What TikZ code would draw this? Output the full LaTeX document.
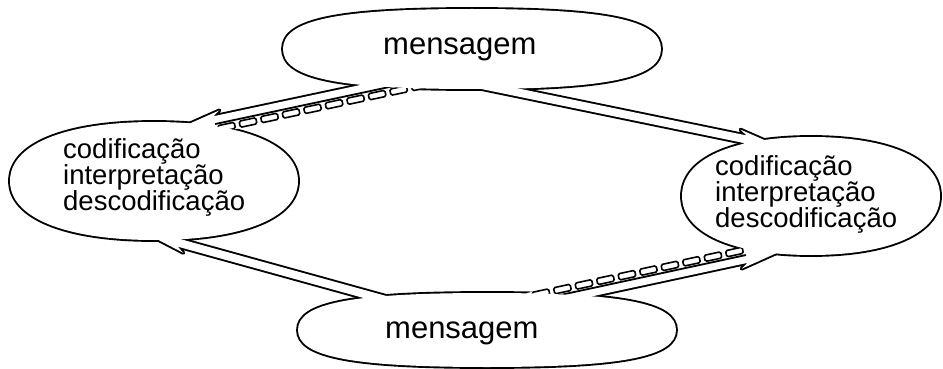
\documentclass[tikz,border=0pt]{standalone}
\usepackage{fontspec}
\setmainfont{Liberation Sans}
\usetikzlibrary{calc}
\pgfdeclarelayer{L1}\pgfdeclarelayer{L2}\pgfdeclarelayer{L3}\pgfdeclarelayer{L4}
\pgfsetlayers{L1,L2,L3,L4,main}
\newcommand\codfont{\fontsize{27.5}{26}\selectfont\lineskiplimit=-50pt\relax}
\tikzset{
  outl/.style={draw=black,line width=3.8pt,line join=round},
  inl/.style={draw=black,line width=1.8pt,line join=round},
  chainbox/.style={draw=black,line width=1.6pt,rounded corners=1.5pt},
  msg/.style={inner sep=0pt,font=\fontsize{31}{31}\selectfont},
  cod/.style={inner sep=0pt,font=\codfont,align=left}
}
% superellipse path: rx, ry, k
\newcommand\blobpath[3]{(#1,0) .. controls (#1,#3*#2) and (#3*#1,#2) .. (0,#2)
  .. controls (-#3*#1,#2) and (-#1,#3*#2) .. (-#1,0)
  .. controls (-#1,-#3*#2) and (-#3*#1,-#2) .. (0,-#2)
  .. controls (#3*#1,-#2) and (#1,-#3*#2) .. (#1,0) -- cycle}
\newcommand\blob[4]{% centre, rx, ry, roundness
  \begin{pgfonlayer}{L1}\draw[outl,shift={(#1)}] \blobpath{#2}{#3}{#4};\end{pgfonlayer}
  \begin{pgfonlayer}{L4}\fill[white,shift={(#1)}] \blobpath{#2}{#3}{#4};\end{pgfonlayer}}
\def\aW{4pt}\def\aH{8.5pt}\def\aL{33pt}\def\aB{7pt}\def\aC{13pt}\def\aHH{18pt}
\newcommand\measure[2]{\path let \p1=(#1), \p2=(#2) in \pgfextra{%
  \pgfmathsetmacro\tmpang{atan2(\y2-\y1,\x2-\x1)}%
  \pgfmathsetmacro\tmplen{veclen(\x2-\x1,\y2-\y1)}%
  \xdef\Aang{\tmpang}\xdef\Alen{\tmplen}};}
\def\hollowpoly{(0pt,-\aW) -- ({\Alen pt-\aL},-\aW) -- ({\Alen pt-\aL-\aB},-\aH) -- (\Alen pt,0pt)
  -- ({\Alen pt-\aL-\aB},\aH) -- ({\Alen pt-\aL},\aW) -- (0pt,\aW) -- cycle}
\def\chainopen{(0pt,-\aW) -- ({\Alen pt-\aL},-\aW) -- ({\Alen pt-\aL-\aB},-\aH) -- (\Alen pt,0pt)
  -- ({\Alen pt-\aL-\aB},\aHH) -- ({\Alen pt-\aL},\aC)}
\def\chainpoly{\chainopen -- (0pt,\aC) -- cycle}
\newcommand\plainarrow[2]{\measure{#1}{#2}%
  \begin{pgfonlayer}{L1}\draw[outl,shift={(#1)},rotate=\Aang] \hollowpoly;\end{pgfonlayer}
  \begin{pgfonlayer}{L2}\fill[white,shift={(#1)},rotate=\Aang] \hollowpoly;\end{pgfonlayer}}
\newcommand\chainarrow[2]{\measure{#1}{#2}%
  \pgfmathtruncatemacro\nrect{(\Alen-40)/22}%
  \begin{pgfonlayer}{L1}\draw[outl,shift={(#1)},rotate=\Aang] \chainopen;\end{pgfonlayer}
  \begin{pgfonlayer}{L2}\fill[white,shift={(#1)},rotate=\Aang] \chainpoly;\end{pgfonlayer}
  \begin{pgfonlayer}{L3}
    \draw[inl,shift={(#1)},rotate=\Aang] (0pt,\aW) -- ({\Alen pt-\aL},\aW);
    \foreach \i in {0,...,\nrect}{
      \draw[chainbox,shift={(#1)},rotate=\Aang]
        ({\Alen pt-\aL-19pt-\i*22pt},6.2pt) -- ++(17pt,0pt) -- ++(0pt,6.3pt) -- ++(-17pt,0pt) -- cycle;}
  \end{pgfonlayer}}
\begin{document}
\begin{tikzpicture}[x=1pt,y=-1pt]
\useasboundingbox (0,0) rectangle (943,369);
% centres of the four shapes
\coordinate (ctop) at (472,49);
\coordinate (cbot) at (487,330);
\coordinate (cleft) at (154,181);
\coordinate (cright) at (811,196);
\blob{ctop}{189}{40}{0.72}
\blob{cbot}{189}{37}{0.72}
\blob{cleft}{144}{59}{0.62}
\blob{cright}{129}{59}{0.62}
% arrow ends
\coordinate (As) at (436,73);  \coordinate (Ae) at (182,127);
\coordinate (Bs) at (438,76);  \coordinate (Be) at (778,146);
\coordinate (Cs) at (422,310); \coordinate (Ce) at (147,234);
\coordinate (Ds) at (505,311); \coordinate (De) at (779,252);
\chainarrow{As}{Ae}
\plainarrow{Bs}{Be}
\plainarrow{Cs}{Ce}
\chainarrow{Ds}{De}
% texts (base = baseline of the last line)
\node[msg,anchor=base west] (mtop) at (383,55) {mensagem};
\node[msg,anchor=base west] (mbot) at (385,338) {mensagem};
\node[cod,anchor=base west] (tleft) at (63,210) {codificação\\interpretação\\descodificação};
\node[cod,anchor=base west] (tright) at (715,227) {codificação\\interpretação\\descodificação};
\end{tikzpicture}
\end{document}
